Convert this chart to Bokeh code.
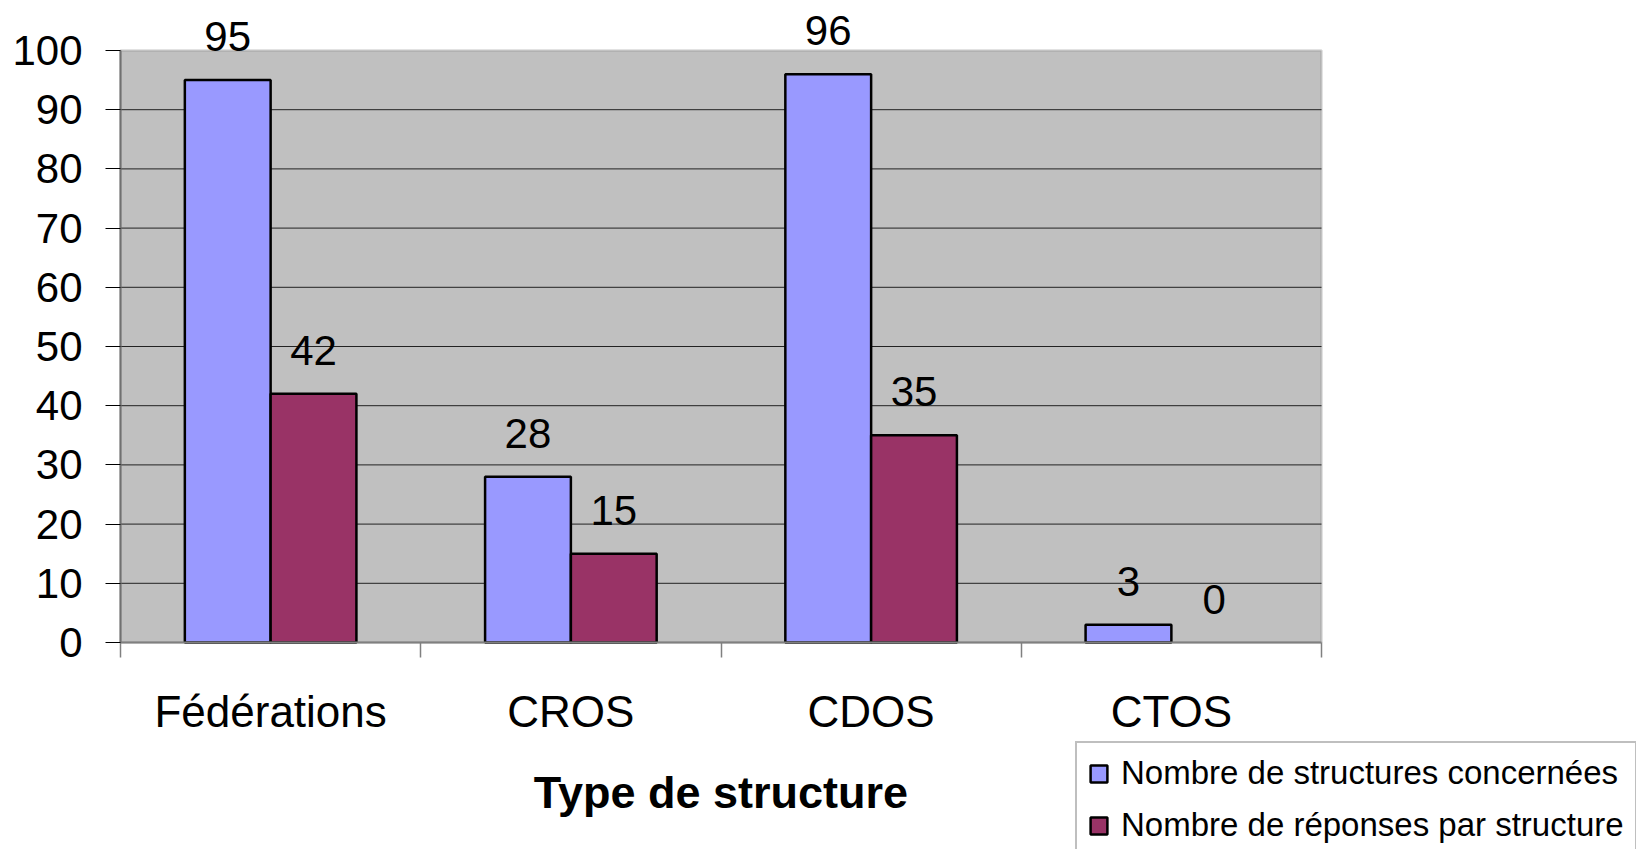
from bokeh.plotting import figure
from bokeh.models import (Range1d, FixedTicker, ColumnDataSource, LabelSet, Legend, LegendItem,
                          BoxAnnotation, LinearAxis)
from bokeh.core.properties import value
from bokeh.embed import file_html
from bokeh.resources import INLINE

categories = ["Fédérations", "CROS", "CDOS", "CTOS"]
structures = [95, 28, 96, 3]
reponses = [42, 15, 35, 0]
series_names = ["Nombre de structures concernées", "Nombre de réponses par structure"]
y_ticks = [0, 10, 20, 30, 40, 50, 60, 70, 80, 90, 100]
x_title = "Type de structure"

FONT = "Liberation Sans"
BLUE = "#9999FF"
RED = "#993366"

W, H = 1636, 849
# plot area (pixels) of the reference
PL, PR, PT, PB = 120, 1321, 50, 642
YMAX = 100
ncat = len(categories)
xs = (PR - PL) / ncat          # px per category
ys = (PB - PT) / YMAX          # px per unit
x_range = Range1d(-PL / xs, ncat + (W - PR) / xs)
y_range = Range1d(-(H - PB) / ys, YMAX + PT / ys)

p = figure(width=W, height=H, output_backend="svg", toolbar_location=None, title=None,
           x_range=x_range, y_range=y_range, x_axis_location=None, y_axis_location=None,
           min_border=0, min_border_left=0, min_border_right=0, min_border_top=0, min_border_bottom=0)
p.background_fill_color = "white"
p.border_fill_color = "white"
p.outline_line_color = None
p.grid.visible = False

# grey plot area
p.add_layout(BoxAnnotation(left=0, right=ncat, bottom=0, top=YMAX, fill_color="#C0C0C0", fill_alpha=1,
                           line_color="#808080", line_width=2.5, level="image"))

# horizontal grid lines (inside the plot area only)
gt = [t for t in y_ticks if 0 < t < YMAX]
p.segment(x0=[0] * len(gt), x1=[ncat] * len(gt), y0=gt, y1=gt, line_color="#222222", line_width=1)

bw = 1 / 3.5
idx = list(range(ncat))
src = ColumnDataSource(dict(
    xb=[i + 0.5 - bw / 2 for i in idx],
    xr=[i + 0.5 + bw / 2 for i in idx],
    s=structures, r=reponses,
    la_s=[1 if v > 0 else 0 for v in structures],
    la_r=[1 if v > 0 else 0 for v in reponses],
    ls=[str(v) for v in structures], lr=[str(v) for v in reponses],
))

rb = p.vbar(x="xb", top="s", width=bw, source=src, fill_color=BLUE,
            line_color="black", line_width=2.5, line_alpha="la_s")
rr = p.vbar(x="xr", top="r", width=bw, source=src, fill_color=RED,
            line_color="black", line_width=2.5, line_alpha="la_r")

for xcol, ycol, tcol in [("xb", "s", "ls"), ("xr", "r", "lr")]:
    p.add_layout(LabelSet(x=xcol, y=ycol, text=tcol, source=src, text_align="center",
                          text_baseline="alphabetic", y_offset=29,
                          text_font=value(FONT), text_font_size=value("42px"), text_color="black"))

# y axis
ya = LinearAxis(fixed_location=0, bounds=(0, YMAX), ticker=FixedTicker(ticks=y_ticks))
ya.major_label_text_font = FONT
ya.major_label_text_font_size = "42px"
ya.major_label_text_color = "black"
ya.major_tick_out = 15
ya.major_tick_in = 0
ya.major_tick_line_color = "black"
ya.minor_tick_line_color = None
ya.axis_line_color = "#707070"
ya.axis_line_width = 2
ya.major_label_standoff = 23
p.add_layout(ya, "left")

# x axis
xa = LinearAxis(fixed_location=0, bounds=(0, ncat),
                ticker=FixedTicker(ticks=[i + 0.5 for i in idx], minor_ticks=list(range(ncat + 1))))
xa.major_label_overrides = {i + 0.5: c for i, c in zip(idx, categories)}
xa.major_label_text_font = FONT
xa.major_label_text_font_size = "44px"
xa.major_label_text_color = "black"
xa.major_tick_out = 0
xa.major_tick_in = 0
xa.minor_tick_out = 15
xa.minor_tick_in = 0
xa.minor_tick_line_color = "#808080"
xa.minor_tick_line_width = 1.5
xa.axis_line_color = "#808080"
xa.axis_line_width = 2
xa.major_label_standoff = 29
xa.axis_label = x_title
xa.axis_label_text_font = FONT
xa.axis_label_text_font_size = "45px"
xa.axis_label_text_font_style = "bold"
xa.axis_label_text_color = "black"
xa.axis_label_standoff = 28
p.add_layout(xa, "below")

legend = Legend(items=[LegendItem(label=series_names[0], renderers=[rb]),
                       LegendItem(label=series_names[1], renderers=[rr])],
                location=(1075, -8), orientation="vertical",
                label_text_font=FONT, label_text_font_size="33px", label_text_color="black",
                glyph_width=21, glyph_height=21, label_standoff=12, spacing=14,
                padding=11, margin=0, border_line_color="#808080", border_line_width=2,
                background_fill_color="white", background_fill_alpha=1)
p.add_layout(legend, "center")

open("out.html", "w").write(file_html(p, INLINE))
